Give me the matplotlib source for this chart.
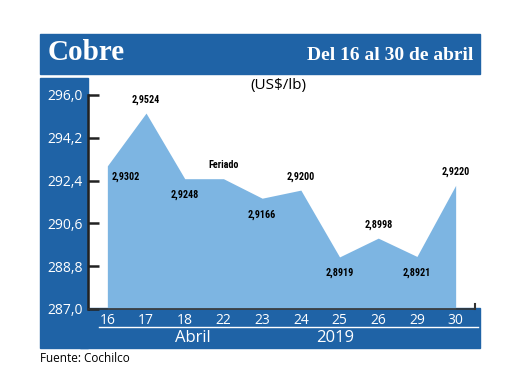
import matplotlib.pyplot as plt
from matplotlib.patches import Rectangle
from matplotlib.lines import Line2D

# datos
dias = ['16', '17', '18', '22', '23', '24', '25', '26', '29', '30']
precio = [293.02, 295.24, 292.48, 292.48, 291.66, 292.00, 289.19, 289.98, 289.21, 292.20]
etiquetas = ['2,9302', '2,9524', '2,9248', 'Feriado', '2,9166', '2,9200',
             '2,8919', '2,8998', '2,8921', '2,9220']
# posicion de la etiqueta: arriba / abajo
lado = ['derecha', 'arriba', 'abajo', 'arriba', 'abajo', 'arriba',
        'abajo', 'arriba', 'abajo', 'arriba']
yticks = [287.0, 288.8, 290.6, 292.4, 294.2, 296.0]

azul = '#1f63a6'
area = '#7db5e2'
W, H = 520, 390
fam_num = ['Liberation Sans Narrow', 'DejaVu Sans Condensed', 'Roboto Condensed', 'Liberation Sans']

fig = plt.figure(figsize=(5.2, 3.9), dpi=100)

def rect(x0, y0, x1, y1, color):
    # coordenadas en pixeles, origen arriba a la izquierda
    fig.patches.append(Rectangle((x0 / W, 1 - y1 / H), (x1 - x0) / W, (y1 - y0) / H,
                                 transform=fig.transFigure, color=color, zorder=0))

# bandas azules
rect(40, 34, 480, 74, azul)
rect(40, 78, 88, 348, azul)
rect(80, 308, 480, 348, azul)

fig.text(48 / W, 1 - 53 / H, 'Cobre', color='white', fontsize=21, fontweight='bold',
         family='Liberation Serif', va='center', ha='left')
fig.text(473 / W, 1 - 56 / H, 'Del 16 al 30 de abril', color='white', fontsize=14,
         fontweight='bold', family='Liberation Serif', va='center', ha='right')
fig.text(278 / W, 1 - 85 / H, '(US$/lb)', color='black', fontsize=11,
         family='Open Sans', va='center', ha='center')
fig.text(40 / W, 1 - 359 / H, 'Fuente: Cochilco', color='black', fontsize=8.5,
         family='Open Sans', va='center', ha='left')

ax = fig.add_axes([88 / W, 1 - 309 / H, (475 - 88) / W, (309 - 95) / H])
ax.set_zorder(2)
ax.patch.set_alpha(0)
x = list(range(len(dias)))
ax.fill_between(x, precio, 287.0, color=area, lw=0)

for i, (v, t, l) in enumerate(zip(precio, etiquetas, lado)):
    if l == 'arriba':
        ax.annotate(t, (i, v), xytext=(0, 6), textcoords='offset points', ha='center',
                    va='bottom', fontsize=7.3, fontweight='bold', family=fam_num)
    elif l == 'abajo':
        ax.annotate(t, (i, v), xytext=(0, -8), textcoords='offset points', ha='center',
                    va='top', fontsize=7.3, fontweight='bold', family=fam_num)
    else:
        ax.annotate(t, (i, v), xytext=(3, -4), textcoords='offset points', ha='left',
                    va='top', fontsize=7.3, fontweight='bold', family=fam_num)

ax.set_xlim(-0.5, 9.5)
ax.set_ylim(287.0, 296.0)
ax.set_yticks(yticks)
ax.set_yticklabels([('%.1f' % t).replace('.', ',') for t in yticks],
                   color='white', fontsize=10, family='Open Sans')
ax.tick_params(axis='y', direction='in', length=8, width=1.8, color='#222222', pad=4)
ax.set_xticks(x)
ax.set_xticklabels(dias, color='white', fontsize=10, family='Open Sans')
ax.tick_params(axis='x', length=0, pad=3)

for s in ['top', 'right']:
    ax.spines[s].set_visible(False)
ax.spines['left'].set_linewidth(1.8)
ax.spines['left'].set_color('#222222')
ax.spines['bottom'].set_linewidth(1.2)
ax.spines['bottom'].set_color('#333333')
# pequeña marca al final del eje x
ax.plot([1, 1], [0, 0.025], transform=ax.transAxes, color='#333333', lw=1.5, clip_on=False)

# linea blanca bajo los dias y textos del eje
fig.add_artist(Line2D([99 / W, 478 / W], [1 - 327 / H, 1 - 327 / H], color='white', lw=1))
fig.text(193 / W, 1 - 338 / H, 'Abril', color='white', fontsize=12, family='Open Sans',
         ha='center', va='center')
fig.text(335 / W, 1 - 338 / H, '2019', color='white', fontsize=12, family='Open Sans',
         ha='center', va='center')

fig.savefig('out.png', dpi=100)
